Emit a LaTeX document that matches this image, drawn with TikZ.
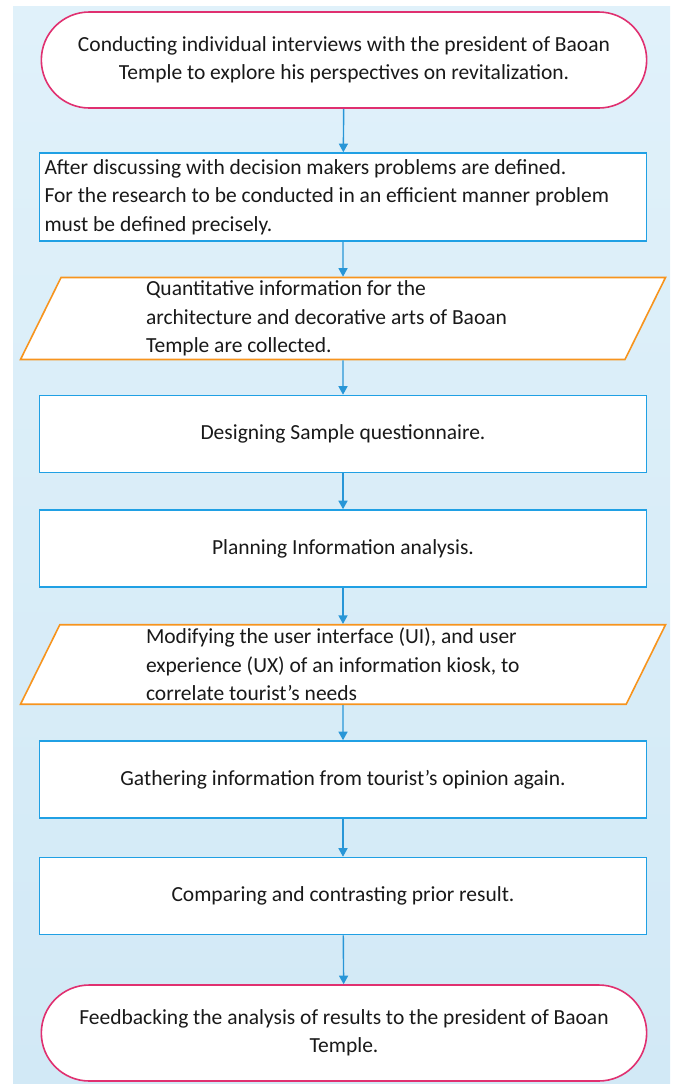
\documentclass[tikz,border=0pt]{standalone}
\usepackage{fontspec}
\setmainfont{Carlito}
\usetikzlibrary{positioning,shapes.geometric,shapes.misc,arrows.meta}
\definecolor{panelTop}{RGB}{224,241,250}
\definecolor{panelBot}{RGB}{210,233,246}
\definecolor{termpink}{RGB}{224,48,112}
\definecolor{boxblue}{RGB}{32,160,228}
\definecolor{ioorange}{RGB}{247,148,30}
\definecolor{arrowblue}{RGB}{40,150,215}
\definecolor{inktext}{RGB}{25,25,25}

\tikzset{
  base/.style={fill=white, line width=1.6pt, text=inktext, font=\fontsize{21.5}{28.5}\selectfont},
  terminal/.style={base, draw=termpink, rounded rectangle, minimum width=612pt, minimum height=96pt, align=center},
  process/.style={base, draw=boxblue, rectangle, minimum width=607pt, minimum height=77pt, align=center},
  inout/.style={base, draw=ioorange, trapezium, trapezium left angle=63.7, trapezium right angle=116.3,
    trapezium stretches body, minimum width=645pt, minimum height=77pt, text width=394pt, align=flush left},
  flow/.style={-{Triangle[width=9pt,length=8.5pt]}, line width=1.4pt, arrowblue}
}

\begin{document}
\begin{tikzpicture}[x=1pt, y=-1pt]
    \useasboundingbox (0,0) rectangle (676,1085);
    \shade[top color=panelTop, bottom color=panelBot] (13,6) rectangle (670,1083);

    \node[terminal] (interview) at (344,60) {Conducting individual interviews with the president of Baoan\\Temple to explore his perspectives on revitalization.};
    \node[process, minimum height=88pt, text width=597pt, align=flush left] (define) at (343,197) {After discussing with decision makers problems are defined.\\For the research to be conducted in an efficient manner problem\\must be defined precisely.};
    \node[inout] (collect) at (343,318.5) {Quantitative information for the\\architecture and decorative arts of Baoan\\Temple are collected.};
    \node[process] (design) at (343,434) {Designing Sample questionnaire.};
    \node[process] (plan) at (343,548.5) {Planning Information analysis.};
    \node[inout] (modify) at (343,664.5) {Modifying the user interface (UI), and user\\experience (UX) of an information kiosk, to\\correlate tourist's needs};
    \node[process] (gather) at (343,779.5) {Gathering information from tourist's opinion again.};
    \node[process] (compare) at (343,896) {Comparing and contrasting prior result.};
    \node[terminal] (feedback) at (344,1033) {Feedbacking the analysis of results to the president of Baoan\\Temple.};

    \draw[flow] (interview) -- (define);
    \draw[flow] (define) -- (collect);
    \draw[flow] (collect) -- (design);
    \draw[flow] (design) -- (plan);
    \draw[flow] (plan) -- (modify);
    \draw[flow] (modify) -- (gather);
    \draw[flow] (gather) -- (compare);
    \draw[flow] (compare) -- (feedback);
\end{tikzpicture}
\end{document}
